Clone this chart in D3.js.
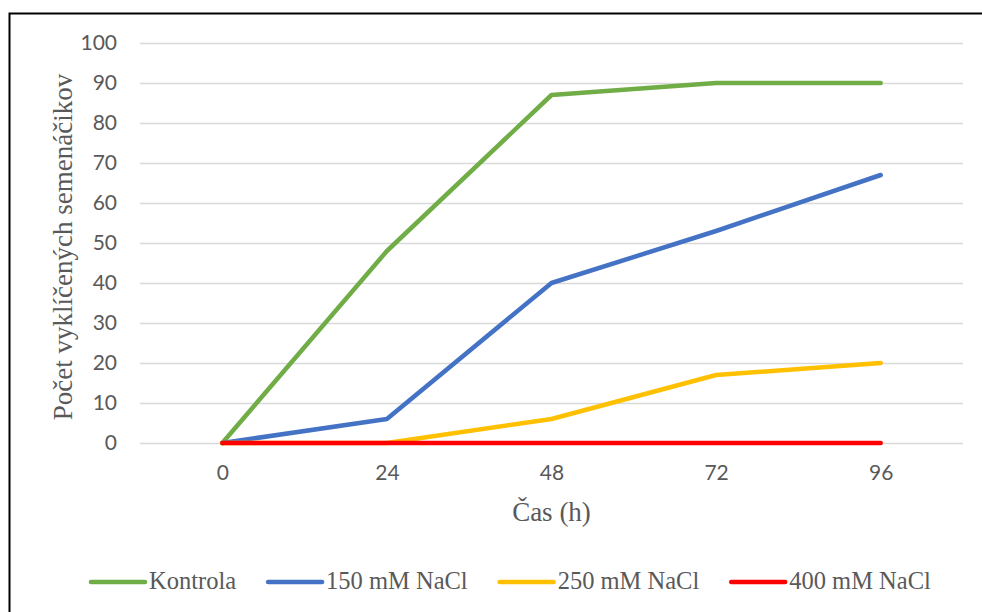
<!DOCTYPE html>
<html>
<head>
<meta charset="utf-8">
<script src="https://cdn.jsdelivr.net/npm/d3@7"></script>
<style>
  html, body { margin: 0; padding: 0; background: #fff; }
  svg { display: block; }
</style>
</head>
<body>
<svg id="chart" width="982" height="612"></svg>
<script>
// Germination over time for the control and three NaCl concentrations
const hours = ["0", "24", "48", "72", "96"];
const seriesNames = ["Kontrola", "150 mM NaCl", "250 mM NaCl", "400 mM NaCl"];
const kontrola = [0, 48, 87, 90, 90];
const nacl150 = [0, 6, 40, 53, 67];
const nacl250 = [0, 0, 6, 17, 20];
const nacl400 = [0, 0, 0, 0, 0];
const seriesColors = ["#70ad47", "#4472c4", "#ffc000", "#ff0000"];
const yTicks = [0, 10, 20, 30, 40, 50, 60, 70, 80, 90, 100];
const xTitle = "Čas (h)";
const yTitle = "Počet vyklíčených semenáčikov";

const seriesValues = [kontrola, nacl150, nacl250, nacl400];

const svg = d3.select("#chart");
const W = 982, H = 612;
const plot = { left: 140, right: 963, top: 43, bottom: 443 };

// chart frame
svg.append("rect")
  .attr("x", 9.5).attr("y", 13.5)
  .attr("width", W + 20).attr("height", H + 20)
  .attr("fill", "#fff")
  .attr("stroke", "#000").attr("stroke-width", 2);

const x = d3.scalePoint().domain(hours).range([plot.left, plot.right]).padding(0.5);
const y = d3.scaleLinear().domain([0, 100]).range([plot.bottom, plot.top]);

// horizontal gridlines
svg.append("g")
  .selectAll("line")
  .data(yTicks)
  .join("line")
  .attr("x1", plot.left).attr("x2", plot.right)
  .attr("y1", d => y(d) + 0.5).attr("y2", d => y(d) + 0.5)
  .attr("stroke", "#d9d9d9").attr("stroke-width", 1.3);

const tickFont = "Lato, 'Open Sans', sans-serif";

// y axis labels
const yAxis = svg.append("g")
  .attr("transform", `translate(${plot.left - 23},0)`)
  .call(d3.axisLeft(y).tickValues(yTicks).tickSize(0).tickPadding(0));
yAxis.select(".domain").remove();
yAxis.selectAll("text")
  .attr("font-family", tickFont).attr("font-size", 21)
  .attr("fill", "#595959");

// x axis labels
const xAxis = svg.append("g")
  .attr("transform", `translate(0,${plot.bottom + 22})`)
  .call(d3.axisBottom(x).tickSize(0).tickPadding(0));
xAxis.select(".domain").remove();
xAxis.selectAll("text")
  .attr("font-family", tickFont).attr("font-size", 21)
  .attr("fill", "#595959");

// axis titles
const serif = "'Liberation Serif', 'Times New Roman', serif";
svg.append("text")
  .attr("x", (plot.left + plot.right) / 2)
  .attr("y", 521)
  .attr("text-anchor", "middle")
  .attr("font-family", serif).attr("font-size", 27)
  .attr("fill", "#595959")
  .text(xTitle);

svg.append("text")
  .attr("transform", `translate(72,${(plot.top + plot.bottom) / 2 + 4}) rotate(-90)`)
  .attr("text-anchor", "middle")
  .attr("font-family", serif).attr("font-size", 27)
  .attr("fill", "#595959")
  .text(yTitle);

// series lines
const line = d3.line()
  .x((d, i) => x(hours[i]))
  .y(d => y(d));

svg.append("g")
  .selectAll("path")
  .data(seriesValues)
  .join("path")
  .attr("d", d => line(d))
  .attr("fill", "none")
  .attr("stroke", (d, i) => seriesColors[i])
  .attr("stroke-width", 4.5)
  .attr("stroke-linecap", "round")
  .attr("stroke-linejoin", "round");

// legend
const legend = svg.append("g");
const legendY = 582;
let lx = 91;
seriesNames.forEach((name, i) => {
  legend.append("line")
    .attr("x1", lx).attr("x2", lx + 54)
    .attr("y1", legendY).attr("y2", legendY)
    .attr("stroke", seriesColors[i])
    .attr("stroke-width", 4.5)
    .attr("stroke-linecap", "round");
  const t = legend.append("text")
    .attr("x", lx + 58).attr("y", legendY + 7)
    .attr("font-family", serif).attr("font-size", 24.5)
    .attr("fill", "#595959")
    .text(name);
  lx += 58 + t.node().getComputedTextLength() + 32;
});
</script>
</body>
</html>
